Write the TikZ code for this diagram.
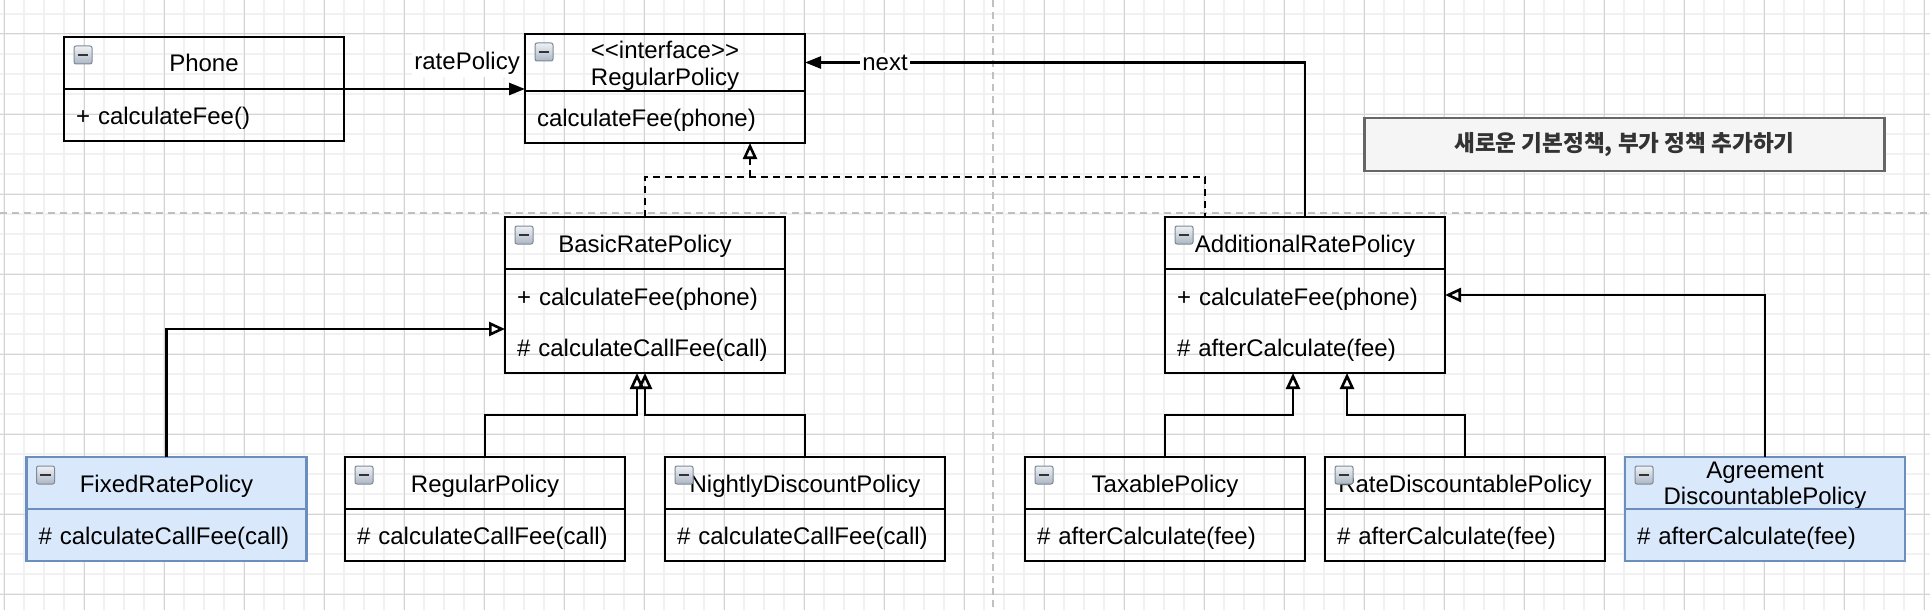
\documentclass[tikz,border=0pt]{standalone}
\usepackage{fontspec}
\setmainfont{Liberation Sans}
\newfontfamily\krfont{Noto Sans CJK KR}
\usetikzlibrary{positioning,arrows.meta,calc}
\definecolor{gridminor}{RGB}{241,241,241}
\definecolor{gridmajor}{RGB}{212,212,212}
\definecolor{pagegray}{RGB}{192,192,192}
\definecolor{umlfill}{RGB}{218,232,252}
\definecolor{umlline}{RGB}{108,142,191}
\definecolor{notefill}{RGB}{245,245,245}
\definecolor{notegray}{RGB}{102,102,102}
\definecolor{notetext}{RGB}{51,51,51}
\definecolor{icontop}{RGB}{238,242,246}
\definecolor{iconbot}{RGB}{172,182,195}
\definecolor{iconline}{RGB}{125,137,152}
\tikzstyle{umlhead}=[draw,line width=1.3pt,minimum width=140pt,minimum height=26pt,inner sep=0pt,outer sep=0pt,anchor=north west,align=center,font=\fontsize{12}{13.5}\selectfont,
  execute at begin node={\rule{0pt}{11.5pt}},execute at end node={\rule[-2.5pt]{0pt}{0pt}}]
\tikzstyle{umlbody}=[draw,line width=1.3pt,minimum width=140pt,minimum height=26pt,text width=128pt,inner xsep=6pt,inner ysep=0pt,outer sep=0pt,align=left,font=\fontsize{12}{25.5}\selectfont,
  execute at begin node={\rule{0pt}{12pt}},execute at end node={\rule[-2.5pt]{0pt}{0pt}}]
\tikzstyle{bluebox}=[fill=umlfill,draw=umlline]
\tikzstyle{minusicon}=[draw=iconline,line width=0.5pt,rounded corners=1pt,minimum size=9pt,inner sep=0pt,top color=icontop,bottom color=iconbot,
  path picture={\draw[line width=1.2pt,black!80] ([xshift=-2.6pt]path picture bounding box.center) -- ([xshift=2.6pt]path picture bounding box.center);}]
\tikzstyle{notebox}=[draw=notegray,fill=notefill,line width=1.2pt,minimum width=260pt,minimum height=26.5pt,text=notetext,font=\fontsize{11.3}{13}\selectfont]
\tikzstyle{assoc}=[line width=1.3pt,-{Triangle[length=8pt,width=6pt]}]
\tikzstyle{inherit}=[line width=1.3pt,-{Triangle[open,length=8pt,width=7pt]}]
\tikzstyle{realize}=[line width=1.3pt,dash pattern=on 3.5pt off 2.5pt]
\tikzstyle{pagebreak}=[pagegray,line width=1pt,dash pattern=on 3.5pt off 2.5pt]
\tikzstyle{edgelabel}=[fill=white,inner sep=1pt,font=\fontsize{12}{14}\selectfont]
\newcommand{\minusat}[1]{\node[minusicon] at ([xshift=9.5pt,yshift=-9pt]#1.north west) {};}

\begin{document}
\begin{tikzpicture}[x=0.5pt,y=-0.5pt]
  \useasboundingbox (0,0) rectangle (1930,610);
  \fill[white] (0,0) rectangle (1930,610);
  \foreach \gx in {4,24,...,1924} \draw[gridminor,line width=1pt] (\gx,0) -- (\gx,610);
  \foreach \gy in {14,34,...,610} \draw[gridminor,line width=1pt] (0,\gy) -- (1930,\gy);
  \foreach \gx in {4,84,...,1924} \draw[gridmajor,line width=0.5pt] (\gx,0) -- (\gx,610);
  \foreach \gy in {34,114,...,610} \draw[gridmajor,line width=0.5pt] (0,\gy) -- (1930,\gy);
  \draw[pagebreak] (993,0) -- (993,610);
  \draw[pagebreak] (0,213) -- (1930,213);

  \node[umlhead] (phone) at (64,37) {Phone};
  \node[umlbody,below=0pt of phone] (phone-b) {+ calculateFee()};
  \node[umlhead,minimum height=28.5pt] (iface) at (525,34) {\rule{0pt}{12.5pt}<\kern0pt<interface>\kern0pt>\\RegularPolicy};
  \node[umlbody,below=0pt of iface] (iface-b) {calculateFee(phone)};
  \node[umlhead] (basic) at (505,217) {BasicRatePolicy};
  \node[umlbody,below=0pt of basic,minimum height=52pt] (basic-b) {+ calculateFee(phone)\\\# calculateCallFee(call)};
  \node[umlhead] (addl) at (1165,217) {AdditionalRatePolicy};
  \node[umlbody,below=0pt of addl,minimum height=52pt] (addl-b) {+ calculateFee(phone)\\\# afterCalculate(fee)};

  \node[umlhead,bluebox] (fixed) at (26.5,457) {FixedRatePolicy};
  \node[umlbody,bluebox,below=0pt of fixed] (fixed-b) {\# calculateCallFee(call)};
  \node[umlhead] (reg) at (345,457) {RegularPolicy};
  \node[umlbody,below=0pt of reg] (reg-b) {\# calculateCallFee(call)};
  \node[umlhead] (night) at (665,457) {NightlyDiscountPolicy};
  \node[umlbody,below=0pt of night] (night-b) {\# calculateCallFee(call)};
  \node[umlhead] (tax) at (1025,457) {TaxablePolicy};
  \node[umlbody,below=0pt of tax] (tax-b) {\# afterCalculate(fee)};
  \node[umlhead] (rdisc) at (1325,457) {RateDiscountablePolicy};
  \node[umlbody,below=0pt of rdisc] (rdisc-b) {\# afterCalculate(fee)};
  \node[umlhead,bluebox,font=\fontsize{12}{13}\selectfont] (agree) at (1625,457) {\rule{0pt}{10.5pt}Agreement\\DiscountablePolicy};
  \node[umlbody,bluebox,below=0pt of agree] (agree-b) {\# afterCalculate(fee)};

  \foreach \cls in {phone,iface,basic,addl,fixed,reg,night,tax,rdisc,agree} {\minusat{\cls}}

  \node[notebox] (note) at (1624.5,144.5) {\krfont\bfseries 새로운 기본정책, 부가 정책 추가하기};

  \draw[assoc] (phone.south east) -- (phone.south east -| iface.west)
    node[edgelabel,pos=0.68,anchor=base,yshift=9.5pt] {ratePolicy};
  \draw[assoc] (addl.north) |- (iface.east) node[edgelabel,pos=0.92] {next};

  \coordinate (rj) at (750,177);
  \draw[realize] (basic.north) |- (rj) -| ([xshift=20pt]addl.north west);
  \draw[realize,inherit] (rj) -- (rj |- iface-b.south);

  \draw[inherit] (fixed.north) |- ([yshift=-4pt]basic-b.west);
  \draw[inherit] (reg.north) -- ++(0,-42) -| ([xshift=-4pt]basic-b.south);
  \draw[inherit] (night.north) -- ++(0,-42) -| (basic-b.south);
  \draw[inherit] (tax.north) -- ++(0,-42) -| ([xshift=-6pt]addl-b.south);
  \draw[inherit] (rdisc.north) -- ++(0,-42) -| ([xshift=21pt]addl-b.south);
  \draw[inherit] (agree.north) |- ([yshift=13pt]addl-b.east);
\end{tikzpicture}
\end{document}
